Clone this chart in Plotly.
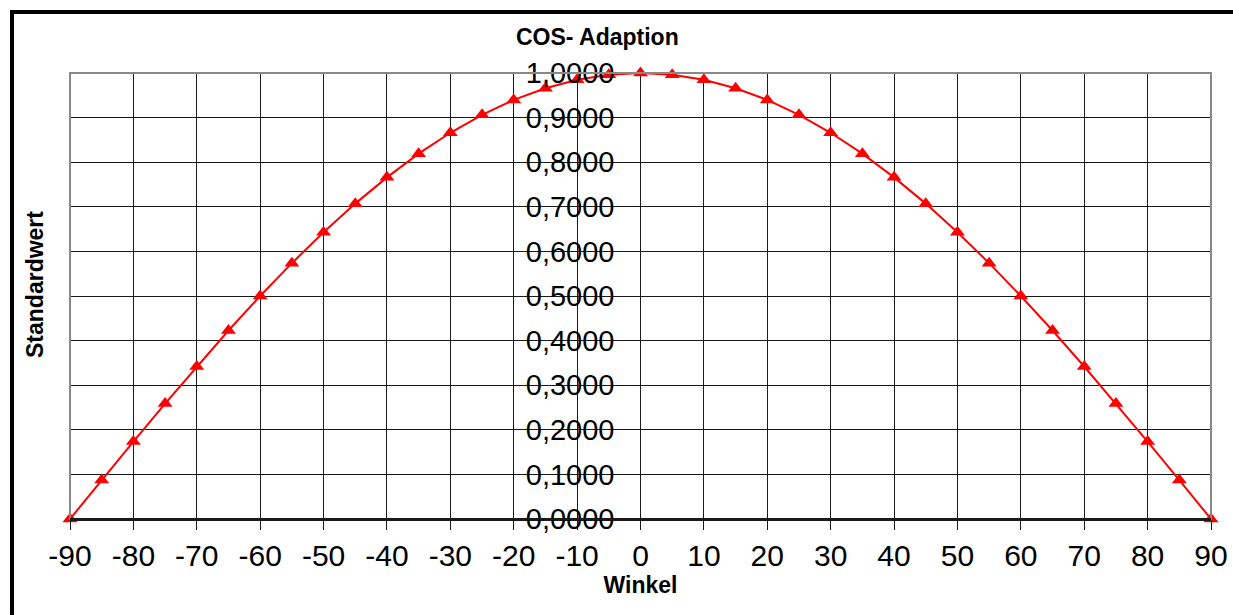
import plotly.graph_objects as go

winkel = [-90, -85, -80, -75, -70, -65, -60, -55, -50, -45, -40, -35, -30, -25, -20, -15, -10, -5,
          0, 5, 10, 15, 20, 25, 30, 35, 40, 45, 50, 55, 60, 65, 70, 75, 80, 85, 90]
standardwert = [0.0000, 0.0872, 0.1736, 0.2588, 0.3420, 0.4226, 0.5000, 0.5736, 0.6428, 0.7071,
                0.7660, 0.8192, 0.8660, 0.9063, 0.9397, 0.9659, 0.9848, 0.9962,
                1.0000, 0.9962, 0.9848, 0.9659, 0.9397, 0.9063, 0.8660, 0.8192, 0.7660,
                0.7071, 0.6428, 0.5736, 0.5000, 0.4226, 0.3420, 0.2588, 0.1736, 0.0872, 0.0000]
x_ticks = list(range(-90, 91, 10))
y_ticks = [i / 10 for i in range(11)]

W, H = 1233, 615
L, R, T, B = 70, 22, 73, 96
pw, ph = W - L - R, H - T - B

def px_x(p):
    return (p - L) / pw

def px_y(p):
    return (H - B - p) / ph

fig = go.Figure()
fig.add_trace(go.Scatter(
    x=winkel, y=standardwert, mode="lines+markers",
    line=dict(color="#ff0000", width=2),
    marker=dict(symbol="triangle-up", size=13, color="#ff0000"),
    cliponaxis=False, hoverinfo="skip", showlegend=False,
))

font = "Liberation Sans, Arial, sans-serif"
fig.update_layout(
    width=W, height=H,
    margin=dict(l=L, r=R, t=T, b=B, autoexpand=False),
    paper_bgcolor="white", plot_bgcolor="white",
    separators=",.",
    font=dict(family=font, color="black"),
    xaxis=dict(
        range=[-90, 90], tickvals=x_ticks, ticktext=[str(v) for v in x_ticks],
        showgrid=True, gridcolor="#1a1a1a", gridwidth=1,
        zeroline=False, showline=True, linecolor="#1a1a1a", linewidth=2,
        ticks="outside", ticklen=9, tickcolor="#1a1a1a", tickwidth=1,
        tickfont=dict(size=30, family=font, color="black"),
        title=dict(text="<b>Winkel</b>", font=dict(size=23, family=font), standoff=6),
        automargin=False, fixedrange=True,
    ),
    yaxis=dict(
        range=[0, 1], tickvals=y_ticks, tickformat=".4f",
        anchor="free", position=0.5,
        showgrid=True, gridcolor="#1a1a1a", gridwidth=1,
        zeroline=False, showline=False, ticks="",
        ticklabelstandoff=26,
        tickfont=dict(size=29, family=font, color="black"),
        title=None, automargin=False, fixedrange=True,
    ),
    shapes=[
        dict(type="rect", xref="paper", yref="paper", x0=0, x1=1, y0=0, y1=1,
             line=dict(color="#888888", width=2), fillcolor="rgba(0,0,0,0)", layer="above"),
        dict(type="line", xref="paper", yref="paper", x0=0, x1=1, y0=0, y1=0,
             line=dict(color="#1a1a1a", width=2), layer="above"),
        dict(type="rect", xref="paper", yref="paper",
             x0=px_x(12), x1=px_x(1250), y0=px_y(12), y1=px_y(700),
             line=dict(color="black", width=4), fillcolor="rgba(0,0,0,0)", layer="above"),
    ],
    annotations=[
        dict(text="<b>COS- Adaption</b>", xref="paper", yref="paper",
             x=px_x(597), y=px_y(37), xanchor="center", yanchor="middle",
             showarrow=False, font=dict(size=23, family=font, color="black")),
        dict(text="<b>Standardwert</b>", xref="paper", yref="paper",
             x=px_x(35), y=px_y(285), xanchor="center", yanchor="middle", textangle=-90,
             showarrow=False, font=dict(size=23, family=font, color="black")),
    ],
)

fig.write_html("out.html", config={"displayModeBar": False},
               post_script="document.body.style.margin='0';document.body.style.overflow='hidden';")
